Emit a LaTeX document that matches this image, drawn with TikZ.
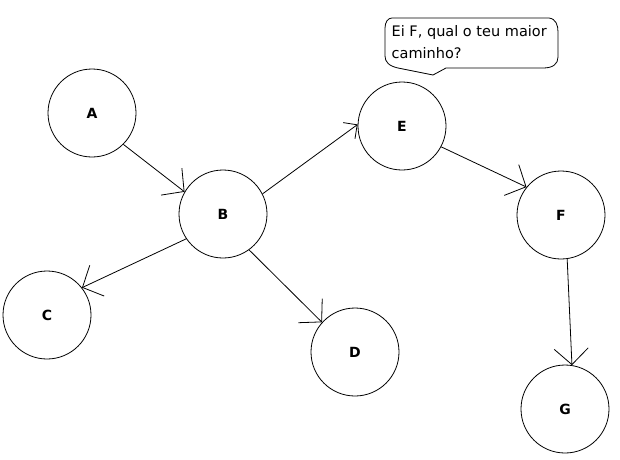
\documentclass[tikz,border=0pt]{standalone}
\usepackage{fontspec}
\setmainfont{DejaVu Sans}
\usetikzlibrary{arrows.meta}

\tikzset{
    vertex/.style={draw, circle, line width=0.8pt, minimum size=88pt, inner sep=0pt, font=\fontsize{14}{16}\selectfont\bfseries},
    edge/.style={line width=0.8pt, -{Straight Barb[length=16pt, width=34pt, line width=0.8pt]}},
    shortedge/.style={line width=0.8pt, -{Straight Barb[length=10pt, width=20pt, line width=0.8pt]}}
}

\begin{document}
\begin{tikzpicture}[x=1pt, y=-1pt]
    \useasboundingbox (0,0) rectangle (620,459);

    % Vertices
    \node [vertex] (A) at (92,113) {A};
    \node [vertex] (B) at (223,214) {B};
    \node [vertex] (C) at (47,315) {C};
    \node [vertex] (D) at (355,352) {D};
    \node [vertex] (E) at (402,126) {E};
    \node [vertex] (F) at (561,215) {F};
    \node [vertex] (G) at (565,409) {G};

    % Edges
    \draw [edge] (A.-45) -- (B.150);
    \draw [edge] (B.214) -- (C.38);
    \draw [edge] (B.-54) -- (D.138);
    \draw [shortedge] (B.27) -- (E.178);
    \draw [edge] (E.-28) -- (F.141);
    \draw [edge] (F.-82) -- (G.81);

    % Speech bubble
    \draw [line width=0.8pt, line join=round] (392,18) -- (549,18)
        .. controls (556,19) and (558,25) .. (558,32) -- (558,57)
        .. controls (558,64) and (553,68) .. (543,68) -- (446,68) -- (433,75) -- (398,68)
        .. controls (389,66) and (385,62) .. (385,56) -- (385,28)
        .. controls (385,22) and (388,18) .. (392,18) -- cycle;
    \node [anchor=base west, inner sep=0pt, align=left, font=\fontsize{14.5}{22}\selectfont] (question) at (391.5,58) {Ei F, qual o teu maior\\caminho?};
\end{tikzpicture}
\end{document}
